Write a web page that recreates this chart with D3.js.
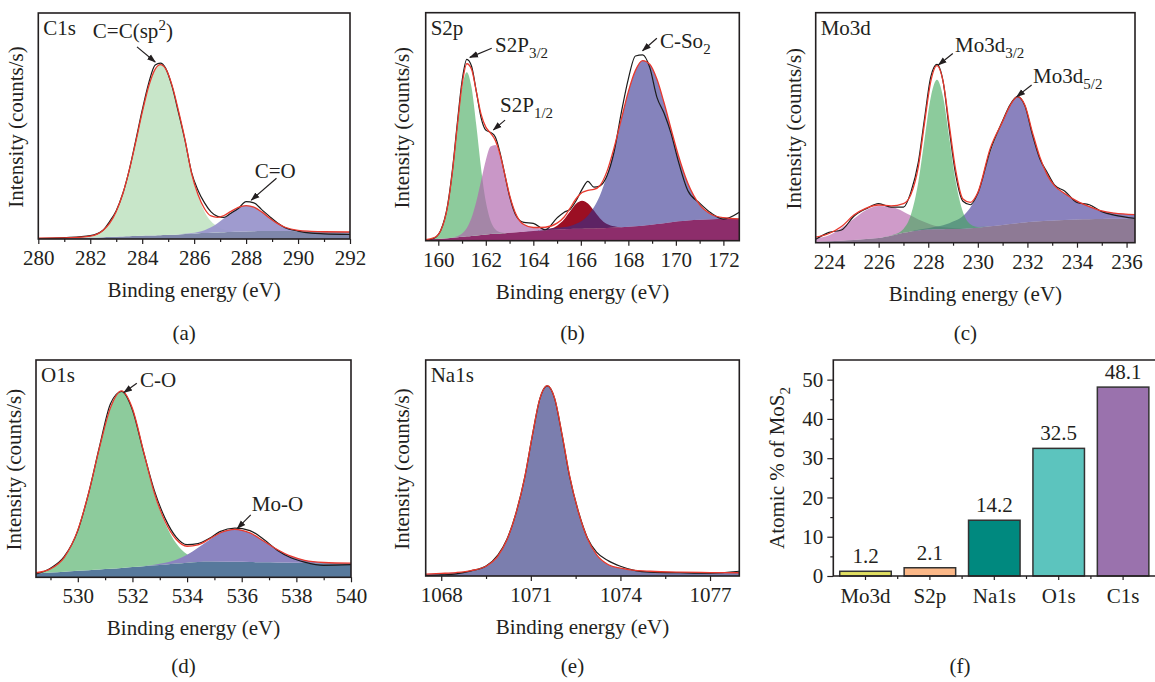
<!DOCTYPE html>
<html>
<head>
<meta charset="utf-8">
<script src="https://cdn.jsdelivr.net/npm/d3@7/dist/d3.min.js"></script>
<style>
  body { margin: 0; background: #fff; }
  svg, svg text { font-family: "Liberation Serif", "DejaVu Serif", serif; }
  svg { display: block; }
</style>
</head>
<body>
<svg id="fig" width="1155" height="682"></svg>
<script>
// ---- (a) C1s ----
const c1sEnergy = [280, 281, 282, 282.5, 282.75, 283, 283.25, 283.5, 283.75, 284, 284.25, 284.5, 284.7, 284.9, 285.15, 285.4, 285.65, 285.9, 286.15, 286.4, 286.65, 286.9, 287.15, 287.4, 287.7, 288, 288.3, 288.6, 288.9, 289.2, 289.5, 290, 290.5, 291, 292];
const c1sBackground = [0.4, 0.5, 0.7, 0.8, 0.9, 1.0, 1.1, 1.2, 1.3, 1.4, 1.5, 1.6, 1.7, 1.8, 1.9, 2.0, 2.2, 2.3, 2.5, 2.6, 2.8, 2.9, 3.0, 3.1, 3.2, 3.3, 3.4, 3.5, 3.5, 3.5, 3.5, 3.4, 3.3, 3.2, 3.1];
const c1sSp2 = [0, 0, 0.6, 3.1, 6.1, 11.2, 18.8, 29.2, 41.6, 54.6, 66.1, 73.6, 75.5, 73.6, 66.1, 54.6, 41.6, 26.5, 16.5, 9.5, 5.0, 2.6, 1.2, 0.5, 0.1, 0, 0, 0, 0, 0, 0, 0, 0, 0, 0];
const c1sCO = [0, 0, 0, 0, 0, 0, 0, 0, 0, 0, 0, 0, 0, 0, 0, 0, 0.1, 0.3, 0.6, 1.3, 2.4, 4.1, 6.2, 8.5, 10.7, 11.5, 10.7, 8.5, 5.8, 3.4, 1.7, 0.4, 0.1, 0, 0];
const c1sFit = [0.4, 0.5, 1.3, 3.9, 7.0, 12.2, 19.9, 30.4, 42.9, 56.0, 67.6, 75.2, 77.2, 75.4, 68.0, 56.6, 43.9, 29.1, 19.6, 13.4, 10.2, 9.6, 10.4, 12.1, 14.0, 14.8, 14.1, 12.0, 9.3, 6.9, 5.2, 3.8, 3.4, 3.2, 3.1];
const c1sRaw = [0.2, 0.6, 1.5, 4.0, 7.8, 12.5, 20.0, 30.5, 43.5, 57.0, 69.0, 77.0, 77.8, 75.6, 67.5, 55.8, 43.5, 29.5, 21.5, 16.0, 12.0, 10.0, 9.6, 11.3, 13.5, 16.5, 16.0, 13.0, 10.0, 7.2, 5.0, 3.5, 2.6, 2.3, 2.0];
const c1sTicks = [280, 282, 284, 286, 288, 290, 292];

// ---- (b) S2p ----
const s2pEnergy = [159.47, 159.8, 160.1, 160.4, 160.6, 160.8, 161.0, 161.2, 161.4, 161.6, 161.8, 162.0, 162.2, 162.4, 162.6, 162.8, 163.0, 163.3, 163.6, 164.0, 164.5, 165.0, 165.3, 165.55, 165.8, 166.05, 166.3, 166.55, 166.8, 167.1, 167.4, 167.7, 168.0, 168.3, 168.6, 168.9, 169.2, 169.5, 169.8, 170.1, 170.5, 171.0, 171.5, 172.0, 172.67];
const s2pBackground = [0.5, 0.7, 0.9, 1.1, 1.3, 1.5, 1.7, 1.9, 2.1, 2.3, 2.5, 2.7, 2.9, 3.0, 3.2, 3.3, 3.5, 3.7, 3.9, 4.2, 4.6, 4.9, 5.0, 5.1, 5.2, 5.25, 5.3, 5.4, 5.5, 5.6, 5.8, 5.9, 6.1, 6.3, 6.6, 6.9, 7.3, 7.7, 8.1, 8.5, 8.9, 9.2, 9.4, 9.5, 9.5];
const s2p32 = [0, 0.5, 3.5, 14.5, 29.3, 48.3, 65.1, 72, 65.1, 48.3, 29.3, 14.5, 5.9, 2.0, 0.5, 0.1, 0, 0, 0, 0, 0, 0, 0, 0, 0, 0, 0, 0, 0, 0, 0, 0, 0, 0, 0, 0, 0, 0, 0, 0, 0, 0, 0, 0, 0];
const s2p12 = [0, 0, 0, 0, 0.1, 0.5, 1.5, 3.7, 8.0, 14.9, 23.7, 32.6, 38.4, 39.0, 34.1, 25.6, 16.5, 7.2, 3.2, 1.6, 0.7, 0.3, 0, 0, 0, 0, 0, 0, 0, 0, 0, 0, 0, 0, 0, 0, 0, 0, 0, 0, 0, 0, 0, 0, 0];
const s2pMid = [0, 0, 0, 0, 0, 0, 0, 0, 0, 0, 0, 0, 0, 0, 0, 0, 0, 0, 0, 0, 0.2, 1.7, 4.4, 7.8, 11.0, 12.3, 11.0, 7.8, 4.4, 1.7, 0.5, 0, 0, 0, 0, 0, 0, 0, 0, 0, 0, 0, 0, 0, 0];
const s2pSO2 = [0, 0, 0, 0, 0, 0, 0, 0, 0, 0, 0, 0, 0, 0, 0, 0, 0, 0, 0, 0, 0.4, 0.8, 1.0, 1.4, 2.2, 3.5, 5.8, 9.3, 14.2, 23.1, 34.5, 47.2, 59.3, 68.4, 72.4, 70.5, 63.6, 52.9, 40.8, 29.1, 16.4, 6.6, 2.1, 0.6, 0.1];
const s2pFit = [0.5, 1.2, 4.4, 15.6, 30.7, 50.3, 68.3, 77.6, 75.2, 65.5, 55.5, 49.8, 47.2, 44.0, 37.8, 29.0, 20.0, 10.9, 7.1, 5.8, 5.9, 7.7, 10.4, 14.3, 18.4, 21.1, 22.1, 22.5, 24.1, 30.4, 40.8, 53.1, 65.4, 74.7, 79.0, 77.4, 70.9, 60.6, 48.9, 37.6, 25.3, 15.8, 11.5, 10.1, 9.6];
const s2pRaw = [0.2, 1.0, 4.5, 16, 31.5, 51.5, 70, 79.5, 76.5, 65.5, 54, 48.5, 47.5, 45.5, 38.5, 29, 19.5, 10.5, 8.0, 7.6, 4.8, 10.0, 12.5, 13.8, 17.5, 22.5, 26, 23.5, 24, 28.5, 39, 56, 71, 81, 81.5, 76, 63, 56, 47, 35, 22, 16.5, 12, 9.5, 12.5];
const s2pTicks = [160, 162, 164, 166, 168, 170, 172];

// ---- (c) Mo3d ----
const mo3dEnergy = [223.46, 224.0, 224.5, 225.0, 225.5, 226.0, 226.5, 227.0, 227.3, 227.6, 227.85, 228.1, 228.35, 228.6, 228.85, 229.1, 229.4, 229.7, 230.0, 230.5, 231.0, 231.3, 231.6, 231.9, 232.2, 232.5, 232.8, 233.1, 233.5, 234.0, 234.5, 235.0, 235.5, 236.34];
const mo3dBackground = [0.3, 0.6, 0.9, 1.2, 1.6, 2.0, 3.0, 4.3, 4.9, 5.3, 5.6, 5.7, 5.8, 5.9, 6.0, 6.0, 6.1, 6.3, 6.5, 7.1, 7.7, 8.1, 8.5, 8.8, 9.1, 9.3, 9.5, 9.7, 9.9, 10.1, 10.2, 10.3, 10.4, 10.4];
const mo3dLow = [1.5, 2.6, 5.5, 9.2, 12.6, 14, 12.6, 9.2, 6.9, 4.8, 3.4, 2.2, 1.4, 0.8, 0.5, 0.3, 0.1, 0, 0, 0, 0, 0, 0, 0, 0, 0, 0, 0, 0, 0, 0, 0, 0, 0];
const mo3d32 = [0, 0, 0, 0, 0, 0, 0.1, 1.7, 7.2, 21.1, 39.4, 57.4, 65, 57.4, 39.4, 21.1, 7.2, 1.7, 0.3, 0, 0, 0, 0, 0, 0, 0, 0, 0, 0, 0, 0, 0, 0, 0];
const mo3d52 = [0, 0, 0, 0, 0, 0, 0, 0, 0, 0.3, 0.5, 0.8, 1.2, 1.7, 2.5, 3.6, 5.5, 9, 15, 32, 45, 51.5, 55, 51, 39, 28, 20, 15, 11.5, 8, 5.5, 3.5, 2.5, 1.8];
const mo3dFit = [2.4, 4.0, 7.0, 12.0, 15.0, 16.4, 16.0, 17.0, 21.0, 33.0, 52.0, 70.0, 77.0, 70.0, 51.0, 32.0, 19.0, 17.5, 21.8, 41.0, 52.7, 59.6, 63.5, 59.8, 48.1, 37.3, 29.5, 24.7, 21.4, 18.1, 15.7, 13.8, 12.9, 12.2];
const mo3dRaw = [1.5, 4.5, 5.5, 11.5, 14.8, 17.0, 15.5, 15.5, 22, 35, 54, 72, 77.5, 70, 49, 30, 18, 16.5, 21.5, 40, 53, 60, 63.5, 59.5, 47, 36.5, 30.5, 25, 22.5, 17.5, 16.5, 13.5, 12, 10.6];
const mo3dTicks = [224, 226, 228, 230, 232, 234, 236];

// ---- (d) O1s ----
const o1sEnergy = [528.47, 529.0, 529.5, 530.0, 530.4, 530.8, 531.2, 531.6, 532.0, 532.4, 532.8, 533.2, 533.6, 534.0, 534.4, 534.8, 535.2, 535.75, 536.3, 536.8, 537.3, 537.8, 538.3, 539.0, 540.0];
const o1sBackground = [1.8, 2.2, 2.6, 3.0, 3.3, 3.6, 3.9, 4.3, 4.7, 5.1, 5.5, 5.9, 6.3, 6.7, 7.0, 7.1, 7.2, 7.1, 7.0, 6.9, 6.8, 6.7, 6.6, 6.5, 6.5];
const o1sCO = [0.3, 1.7, 6.5, 18.7, 35.6, 56.4, 74.3, 81.5, 73.0, 53.2, 33.1, 18.9, 9.4, 3.9, 1.3, 0.4, 0.1, 0, 0, 0, 0, 0, 0, 0, 0];
const o1sMoO = [0, 0, 0, 0, 0, 0, 0, 0, 0, 0, 0.3, 0.8, 1.8, 3.7, 6.6, 10.0, 13.1, 15.0, 13.4, 9.8, 6.0, 3.0, 1.2, 0.3, 0];
const o1sFit = [2.1, 3.9, 9.1, 21.7, 38.9, 60.0, 78.2, 85.8, 77.7, 58.3, 38.9, 25.6, 17.5, 14.3, 14.9, 17.5, 20.4, 22.1, 20.4, 16.7, 12.8, 9.7, 7.8, 6.8, 6.5];
const o1sRaw = [1.5, 4.2, 9.5, 21.5, 39, 60.5, 80, 85.5, 77, 58, 40, 27, 18.5, 15, 15.5, 17.8, 21, 22.6, 21.5, 17.5, 12.5, 9, 7.0, 5.5, 5.8];
const o1sTicks = [530, 532, 534, 536, 538, 540];

// ---- (e) Na1s ----
const na1sEnergy = [1067.48, 1068.0, 1068.5, 1069.0, 1069.5, 1069.9, 1070.2, 1070.5, 1070.8, 1071.05, 1071.3, 1071.55, 1071.8, 1072.05, 1072.3, 1072.6, 1072.9, 1073.2, 1073.6, 1074.0, 1074.5, 1075.0, 1076.0, 1077.0, 1077.98];
const na1sBackground = [0.5, 0.55, 0.6, 0.65, 0.7, 0.75, 0.8, 0.85, 0.9, 0.95, 1.0, 1.05, 1.1, 1.15, 1.2, 1.25, 1.3, 1.35, 1.4, 1.45, 1.5, 1.5, 1.5, 1.5, 1.5];
const na1sPeak = [0.4, 0.6, 1.0, 1.8, 3.8, 8.5, 16, 28, 45, 64, 81, 87, 81, 64, 45, 28, 16, 8.5, 3.8, 2.1, 1.1, 0.7, 0.3, 0.1, 0];
const na1sFit = [0.9, 1.2, 1.6, 2.5, 4.5, 9.3, 16.8, 28.9, 45.9, 65.0, 82.0, 88.1, 82.1, 65.2, 46.2, 29.3, 17.3, 9.9, 5.2, 3.6, 2.6, 2.2, 1.8, 1.6, 1.5];
const na1sRaw = [0.2, 0.5, 1.0, 2.4, 4.6, 9.8, 17, 29, 46, 65, 82, 88, 82, 65, 46, 29.5, 17.5, 11.0, 7.0, 4.5, 2.5, 1.8, 1.5, 1.3, 2.2];
const na1sTicks = [1068, 1071, 1074, 1077];

// ---- (f) atomic composition ----
const atomicLabels = ["Mo3d", "S2p", "Na1s", "O1s", "C1s"];
const atomicPercent = [1.2, 2.1, 14.2, 32.5, 48.1];
const atomicTicks = [0, 10, 20, 30, 40, 50];

const ink = "#231f20";
const serif = '"Liberation Serif", "DejaVu Serif", serif';
const svg = d3.select("#fig");
const defs = svg.append("defs");

defs.append("marker")
    .attr("id", "arrow")
    .attr("viewBox", "0 0 10 10")
    .attr("refX", 9).attr("refY", 5)
    .attr("markerWidth", 9).attr("markerHeight", 9)
    .attr("markerUnits", "userSpaceOnUse")
    .attr("orient", "auto")
  .append("path")
    .attr("d", "M0,1.5L10,5L0,8.5z")
    .attr("fill", ink);

// text with sub / superscripts: parts = [[string, "sub"|"sup"|undefined], ...]
function richText(sel, x, y, parts, size) {
    const t = sel.append("text")
        .attr("x", x).attr("y", y)
        .attr("font-size", size || 21)
        .attr("fill", ink);
    let shift = 0;
    parts.forEach(([s, kind]) => {
        const next = kind === "sub" ? 6 : kind === "sup" ? -8 : 0;
        t.append("tspan")
            .attr("dy", next - shift)
            .attr("font-size", kind ? 15 : null)
            .text(s);
        shift = next;
    });
    return t;
}

// d3 axes put a sans-serif font on their group; force the serif face back on
function styleAxis(ax) {
    ax.attr("font-family", serif).style("font-family", serif).attr("font-size", 21);
    ax.select(".domain").remove();
    ax.selectAll("line").attr("stroke", ink).attr("stroke-width", 1.2);
    ax.selectAll("text").style("font-family", serif).attr("font-size", 21).attr("fill", ink);
    return ax;
}

const spectra = [
    { name: "C1s", tag: "(a)", box: [38.3, 13, 350, 239], domain: [280, 292], ticks: c1sTicks, step: 1,
      energy: c1sEnergy, background: c1sBackground, bgColor: "#7f87aa",
      parts: [ { values: c1sSp2, color: "#c8e6c9", opacity: 1 },
               { values: c1sCO, color: "#9a96cc", opacity: 0.95 } ],
      fit: c1sFit, raw: c1sRaw, titleX: 23, tagY: 340,
      notes: [ { text: [["C=C(sp"], ["2", "sup"], [")"]], at: [282.1, 88.9], from: [283.8, 85.0], to: [284.5, 78.3] },
               { text: [["C=O"]], at: [288.33, 27], from: [289.17, 26.9], to: [288.2, 17.2] } ] },
    { name: "S2p", tag: "(b)", box: [425.7, 12.7, 739.3, 240.7], domain: [159.47, 172.67], ticks: s2pTicks, step: 1,
      energy: s2pEnergy, background: s2pBackground, bgColor: "#8d2d6b",
      parts: [ { values: s2p32, color: "#8dcb9c", opacity: 1 },
               { values: s2p12, color: "#b065ad", opacity: 0.68 },
               { values: s2pMid, color: "#9b0f23", opacity: 1 },
               { values: s2pSO2, color: "#34308f", opacity: 0.6 } ],
      fit: s2pFit, raw: s2pRaw, titleX: 409, tagY: 340,
      notes: [ { text: [["S2P"], ["3/2", "sub"]], at: [162.39, 82.9], from: [162.25, 84.4], to: [161.33, 80.4] },
               { text: [["S2P"], ["1/2", "sub"]], at: [162.6, 56.6], from: [162.81, 52.9], to: [162.32, 48.6] },
               { text: [["C-So"], ["2", "sub"]], at: [169.33, 84.5], from: [169.2, 88.8], to: [168.6, 83.3] } ] },
    { name: "Mo3d", tag: "(c)", box: [815.7, 12.7, 1135, 242.7], domain: [223.46, 236.34], ticks: mo3dTicks, step: 1,
      energy: mo3dEnergy, background: mo3dBackground, bgColor: "#8e7a95",
      parts: [ { values: mo3dLow, color: "#b86cb0", opacity: 0.68 },
               { values: mo3d52, color: "#3c2f93", opacity: 0.6 },
               { values: mo3d32, color: "#3fa85a", opacity: 0.6 } ],
      fit: mo3dFit, raw: mo3dRaw, titleX: 801, tagY: 340,
      notes: [ { text: [["Mo3d"], ["3/2", "sub"]], at: [229.08, 83.0], from: [228.99, 82.3], to: [228.41, 77.3] },
               { text: [["Mo3d"], ["5/2", "sub"]], at: [232.23, 69.3], from: [232.17, 68.6], to: [231.57, 63.5] } ] },
    { name: "O1s", tag: "(d)", box: [36, 360, 351, 577.3], domain: [528.47, 540], ticks: o1sTicks, step: 1,
      energy: o1sEnergy, background: o1sBackground, bgColor: "#57799c",
      parts: [ { values: o1sCO, color: "#8dcb9c", opacity: 1 },
               { values: o1sMoO, color: "#8b84c0", opacity: 1 } ],
      fit: o1sFit, raw: o1sRaw, titleX: 21, tagY: 673,
      notes: [ { text: [["C-O"]], at: [532.28, 87.7], from: [532.16, 89.3], to: [531.69, 85.0] },
               { text: [["Mo-O"]], at: [536.37, 30.6], from: [536.33, 28.7], to: [535.84, 22.5] } ] },
    { name: "Na1s", tag: "(e)", box: [425.7, 360, 739.3, 576], domain: [1067.48, 1077.98], ticks: na1sTicks, step: 1.5,
      energy: na1sEnergy, background: na1sBackground, bgColor: "#7b7eae",
      parts: [ { values: na1sPeak, color: "#7b7eae", opacity: 1, fromAxis: true } ],
      fit: na1sFit, raw: na1sRaw, titleX: 409, tagY: 673, notes: [] }
];

function drawSpectrum(p) {
    const [x0, y0, x1, y1] = p.box;
    const x = d3.scaleLinear().domain(p.domain).range([x0, x1]);
    const y = d3.scaleLinear().domain([0, 100]).range([y1, y0]);
    const idx = d3.range(p.energy.length);
    const g = svg.append("g").attr("class", "panel-" + p.name);

    defs.append("clipPath").attr("id", "clip-" + p.name)
      .append("rect")
        .attr("x", x0).attr("y", y0)
        .attr("width", x1 - x0).attr("height", y1 - y0);

    const plot = g.append("g").attr("clip-path", `url(#clip-${p.name})`);

    plot.append("path")
        .datum(idx)
        .attr("fill", p.bgColor)
        .attr("d", d3.area().curve(d3.curveMonotoneX)
            .x(i => x(p.energy[i])).y0(y1).y1(i => y(p.background[i])));

    p.parts.forEach(part => {
        const area = d3.area().curve(d3.curveMonotoneX)
            .x(i => x(p.energy[i]))
            .y0(i => part.fromAxis ? y1 : y(p.background[i]))
            .y1(i => y(p.background[i] + part.values[i]));
        plot.append("path")
            .datum(idx)
            .attr("fill", part.color)
            .attr("fill-opacity", part.opacity)
            .attr("d", area);
    });

    const line = vals => d3.line().curve(d3.curveMonotoneX)
        .x(i => x(p.energy[i])).y(i => y(vals[i]));

    plot.append("path").datum(idx)
        .attr("fill", "none").attr("stroke", "#1c1c1c").attr("stroke-width", 1.2)
        .attr("d", line(p.raw));
    plot.append("path").datum(idx)
        .attr("fill", "none").attr("stroke", "#e8392d").attr("stroke-width", 1.3)
        .attr("d", line(p.fit));

    // bottom axis, major + minor ticks
    const minor = d3.range(Math.ceil(p.domain[0] / p.step) * p.step, p.domain[1], p.step)
        .filter(v => !p.ticks.includes(v));
    styleAxis(g.append("g").attr("transform", `translate(0,${y1})`)
        .call(d3.axisBottom(x).tickValues(p.ticks).tickSize(5).tickPadding(6).tickFormat(d3.format("d"))));
    styleAxis(g.append("g").attr("transform", `translate(0,${y1})`)
        .call(d3.axisBottom(x).tickValues(minor).tickSize(3).tickFormat("")));

    g.append("rect")
        .attr("x", x0).attr("y", y0)
        .attr("width", x1 - x0).attr("height", y1 - y0)
        .attr("fill", "none").attr("stroke", ink).attr("stroke-width", 1.6);

    g.append("text")
        .attr("x", x0 + 5).attr("y", y0 + 22)
        .attr("font-size", 21).attr("fill", ink)
        .text(p.name);

    g.append("text")
        .attr("x", (x0 + x1) / 2).attr("y", y1 + 58)
        .attr("text-anchor", "middle").attr("font-size", 21).attr("fill", ink)
        .text("Binding energy (eV)");

    g.append("text")
        .attr("transform", `translate(${p.titleX},${(y0 + y1) / 2 + 1}) rotate(-90)`)
        .attr("text-anchor", "middle").attr("font-size", 21).attr("fill", ink)
        .text("Intensity (counts/s)");

    g.append("text")
        .attr("x", (x0 + x1) / 2 - 10).attr("y", p.tagY)
        .attr("text-anchor", "middle").attr("font-size", 21).attr("fill", ink)
        .text(p.tag);

    p.notes.forEach(n => {
        g.append("line")
            .attr("x1", x(n.from[0])).attr("y1", y(n.from[1]))
            .attr("x2", x(n.to[0])).attr("y2", y(n.to[1]))
            .attr("stroke", ink).attr("stroke-width", 1.2)
            .attr("marker-end", "url(#arrow)");
        richText(g, x(n.at[0]), y(n.at[1]), n.text);
    });
}

spectra.forEach(drawSpectrum);

// ---- (f) bar chart ----
(function drawBars() {
    const left = 833.3, right = 1155.3, top = 360, bottom = 576;
    const colors = ["#e1df62", "#fcb888", "#00897f", "#5cc4be", "#9a72ad"];
    const x = d3.scaleBand().domain(atomicLabels).range([left, right]).paddingInner(0.2).paddingOuter(0.1);
    const y = d3.scaleLinear().domain([0, 55]).range([bottom, top]);
    const g = svg.append("g").attr("class", "panel-bars");

    g.selectAll("rect.bar")
        .data(atomicPercent)
        .enter().append("rect")
        .attr("class", "bar")
        .attr("x", (d, i) => x(atomicLabels[i]))
        .attr("y", d => y(d))
        .attr("width", x.bandwidth())
        .attr("height", d => y(0) - y(d))
        .attr("fill", (d, i) => colors[i])
        .attr("stroke", "#333").attr("stroke-width", 1.5);

    g.selectAll("text.value")
        .data(atomicPercent)
        .enter().append("text")
        .attr("class", "value")
        .attr("x", (d, i) => x(atomicLabels[i]) + x.bandwidth() / 2)
        .attr("y", d => y(d) - 8)
        .attr("text-anchor", "middle").attr("font-size", 21).attr("fill", ink)
        .text(d => d.toFixed(1));

    styleAxis(g.append("g").attr("transform", `translate(${left},0)`)
        .call(d3.axisLeft(y).tickValues(atomicTicks).tickSize(6).tickPadding(4)));
    styleAxis(g.append("g").attr("transform", `translate(${left},0)`)
        .call(d3.axisLeft(y).tickValues(atomicTicks.slice(0, -1).map(v => v + 5)).tickSize(3).tickFormat("")));
    styleAxis(g.append("g").attr("transform", `translate(0,${bottom})`)
        .call(d3.axisBottom(x).tickSize(4).tickPadding(8)));

    const gaps = atomicLabels.slice(0, -1).map(l => x(l) + x.bandwidth() + x.step() * 0.1);
    g.selectAll("line.minor")
        .data(gaps)
        .enter().append("line")
        .attr("class", "minor")
        .attr("x1", d => d).attr("x2", d => d)
        .attr("y1", bottom).attr("y2", bottom + 3)
        .attr("stroke", ink).attr("stroke-width", 1.2);

    g.append("path")
        .attr("d", `M${right + 10},${top}H${left}V${bottom}H${right + 10}`)
        .attr("fill", "none").attr("stroke", ink).attr("stroke-width", 1.6);

    const title = richText(g, 0, 0, [["Atomic % of MoS"], ["2", "sub"]]);
    title.attr("transform", `translate(784,${(top + bottom) / 2}) rotate(-90)`)
        .attr("text-anchor", "middle");

    g.append("text")
        .attr("x", 960).attr("y", 673)
        .attr("text-anchor", "middle").attr("font-size", 21).attr("fill", ink)
        .text("(f)");
})();
</script>
</body>
</html>
